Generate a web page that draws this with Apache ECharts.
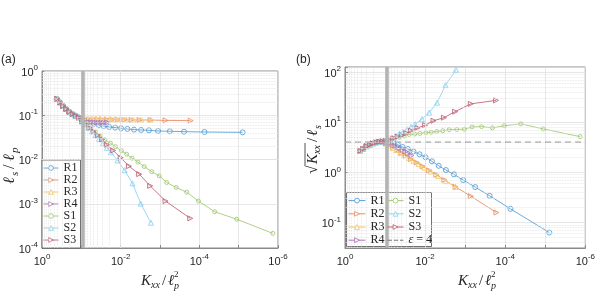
<!DOCTYPE html>
<html><head><meta charset="utf-8">
<script src="https://cdn.jsdelivr.net/npm/echarts@6/dist/echarts.min.js"></script>
<style>html,body{margin:0;padding:0;background:#fff}#c{width:598px;height:300px}</style>
</head><body><div id="c"></div>
<script>
// ---------- data ----------
const names = ['R1','R2','R3','R4','S1','S2','S3'];

const R1x = [0.417,0.347,0.288,0.240,0.200,0.166,0.138,0.115,0.0955,0.0776,0.0617,0.0479,0.0363,0.0269,0.0195,0.0138,0.00977,0.00676,0.00457,0.00302,0.00191,0.00112,5.62e-4,2.45e-4,7.41e-5,7.94e-6];
const R1a = [0.234,0.195,0.162,0.138,0.120,0.107,0.0977,0.0891,0.0813,0.0741,0.0692,0.0646,0.0603,0.0569,0.0543,0.0525,0.0507,0.0490,0.0473,0.0465,0.0457,0.0441,0.0434,0.0426,0.0418,0.0411];
const R1b = [2.69,2.95,3.31,3.55,3.76,3.94,4.07,4.12,4.07,3.98,3.80,3.55,3.20,2.92,2.60,2.29,2.00,1.66,1.35,1.11,0.912,0.701,0.508,0.341,0.187,0.0631];

const R2x = [0.417,0.347,0.288,0.240,0.200,0.166,0.138,0.115,0.0955,0.0776,0.0631,0.0501,0.0389,0.0302,0.0224,0.0162,0.0115,0.00794,0.00525,0.00331,0.00174,7.24e-4,1.66e-4];
const R2a = [0.234,0.195,0.162,0.138,0.120,0.107,0.0977,0.0891,0.0813,0.0795,0.080,0.0805,0.081,0.081,0.0805,0.080,0.080,0.0795,0.079,0.0785,0.078,0.0765,0.0755];
const R2b = [2.69,2.95,3.31,3.55,3.76,3.94,4.07,4.12,3.80,3.51,3.16,2.79,2.43,2.14,1.84,1.57,1.32,1.10,0.891,0.708,0.513,0.335,0.158];

const R3x = [0.417,0.347,0.288,0.240,0.200,0.166,0.138,0.115,0.0955,0.0794,0.0646,0.0525,0.0417,0.0331,0.0257,0.0195,0.0145,0.0105,0.00724,0.00479,0.00302,0.00174];
const R3a = [0.234,0.195,0.162,0.138,0.120,0.107,0.0977,0.0891,0.0813,0.081,0.0815,0.082,0.0825,0.0825,0.082,0.082,0.0815,0.081,0.0805,0.080,0.080,0.0795];
const R3b = [2.69,2.95,3.31,3.55,3.76,3.94,4.07,4.12,3.76,3.43,3.09,2.79,2.48,2.21,1.95,1.70,1.46,1.24,1.035,0.841,0.668,0.513];

const R4x = [0.417,0.347,0.288,0.240,0.200,0.166,0.138,0.115,0.0955,0.0813,0.0692,0.0589,0.0501,0.0427,0.0363,0.0309,0.0263,0.0219];
const R4a = [0.234,0.195,0.162,0.138,0.120,0.107,0.0977,0.0891,0.0794,0.0759,0.0724,0.0708,0.0692,0.0684,0.0676,0.0676,0.0676,0.0684];
const R4b = [2.69,2.95,3.31,3.55,3.76,3.94,4.07,4.12,3.89,3.76,3.63,3.43,3.24,3.02,2.82,2.60,2.40,2.16];

const S1x = [0.417,0.347,0.288,0.240,0.200,0.166,0.138,0.115,0.0955,0.0759,0.0575,0.0437,0.0331,0.0251,0.0182,0.0135,0.00955,0.00708,0.00513,0.00363,0.00251,0.00162,0.00105,6.76e-4,3.89e-4,2.09e-4,1.05e-4,4.07e-5,1.12e-5,1.35e-6];
const S1a = [0.234,0.195,0.162,0.138,0.120,0.107,0.0977,0.0891,0.0733,0.0624,0.0513,0.0417,0.0343,0.0279,0.0234,0.0195,0.0158,0.0132,0.0107,0.00871,0.00692,0.00531,0.00427,0.00302,0.00234,0.00182,0.00115,6.61e-4,4.47e-4,2.14e-4];
const S1b = [2.69,2.95,3.31,3.55,3.76,3.94,4.07,4.12,4.22,4.42,4.68,5.01,5.31,5.69,5.82,5.96,6.17,6.31,6.53,6.76,7.08,7.16,7.24,8.04,8.18,7.69,8.51,9.25,7.35,5.15];

const S2x = [0.417,0.347,0.288,0.240,0.200,0.166,0.138,0.115,0.0955,0.0794,0.0661,0.0537,0.0437,0.0355,0.0282,0.0224,0.0178,0.0120,0.00794,0.00501,0.00309,0.0017];
const S2a = [0.234,0.195,0.162,0.138,0.120,0.107,0.0977,0.0891,0.0724,0.0617,0.0525,0.0432,0.0355,0.0292,0.0232,0.0184,0.0146,0.00955,0.00575,0.00288,0.00101,3.72e-4];
const S2b = [2.69,2.95,3.31,3.55,3.76,3.94,4.07,4.12,4.27,4.57,4.90,5.37,5.89,6.46,7.24,8.13,9.12,11.5,15.5,24.5,55.0,111];

const S3x = [0.417,0.347,0.288,0.240,0.200,0.166,0.138,0.115,0.0955,0.0776,0.0617,0.0490,0.0380,0.0295,0.0224,0.0155,0.0100,0.00617,0.00339,0.00178,7.24e-4,1.70e-4];
const S3a = [0.234,0.195,0.162,0.138,0.120,0.107,0.0977,0.0891,0.0733,0.0624,0.0519,0.0432,0.0355,0.0285,0.0216,0.0160,0.0110,0.00708,0.00468,0.00254,0.00115,4.68e-4];
const S3b = [2.69,2.95,3.31,3.55,3.76,3.94,4.07,4.12,4.22,4.47,4.79,5.13,5.50,6.03,6.76,7.67,8.71,10.7,12.3,16.2,23.2,27.2];

const xRange = [1e-6, 1];
const yaRange = [1e-4, 1];
const ybRange = [0.031, 126];
const bandX = 0.092;      // grey vertical line
const epsValue = 4;       // dashed line  epsilon = 4
const epsName = 'ε = 4';

// ---------- styling ----------
const colors = {R1:'#5aa2d6',R2:'#e8926a',R3:'#f2c86a',R4:'#ad7ab8',S1:'#a6c97a',S2:'#8ed5f4',S3:'#c2667a'};
const symbols = {R1:['circle',0,5],R2:['triangle',-90,5],R3:['triangle',0,5],R4:['triangle',-90,5],S1:['circle',0,4],S2:['triangle',0,5],S3:['triangle',-90,5]};
const seriesX = {R1:R1x,R2:R2x,R3:R3x,R4:R4x,S1:S1x,S2:S2x,S3:S3x};
const seriesA = {R1:R1a,R2:R2a,R3:R3a,R4:R4a,S1:S1a,S2:S2a,S3:S3a};
const seriesB = {R1:R1b,R2:R2b,R3:R3b,R4:R4b,S1:S1b,S2:S2b,S3:S3b};

const SANS = 'Liberation Sans, Arial, sans-serif';
const SERIF = 'Liberation Serif, Times New Roman, serif';
const AXIS_COLOR = '#8a8a8a';

function powLabel(evenOnly){
  return function(v){
    const e = Math.log10(v), r = Math.round(e);
    if (Math.abs(e - r) > 1e-6) return '';
    if (evenOnly && r % 2 !== 0) return '';
    return '{b|10}{s|' + r + '}';
  };
}
const tickRich = {
  b:{fontFamily:SANS,fontSize:11,color:'#262626',lineHeight:14,verticalAlign:'bottom'},
  s:{fontFamily:SANS,fontSize:8,color:'#262626',lineHeight:14,verticalAlign:'top'}
};
function logAxis(idx, range, inverse, evenOnly, isX, split){
  return {
    type:'log', logBase:10, gridIndex:idx, min:range[0], max:range[1], inverse:inverse,
    splitNumber:split,
    axisLine:{show:true,lineStyle:{color:AXIS_COLOR,width:1}},
    axisTick:{show:true,inside:true,length:3,lineStyle:{color:AXIS_COLOR}},
    axisLabel:{formatter:powLabel(evenOnly),rich:tickRich,margin:isX?5:4,showMinLabel:true,showMaxLabel:true,hideOverlap:false},
    splitLine:{show:true,lineStyle:{color:'#dcdcdc',width:0.7,type:'solid'}},
    minorTick:{show:false}
  };
}

function minorVals(eFrom, eTo, lo, hi){
  const out=[];
  for(let e=eFrom;e<=eTo;e++) for(let k=2;k<=9;k++){const v=k*Math.pow(10,e); if(v>lo&&v<hi) out.push(v);}
  return out;
}
const minorXa = minorVals(-6,-1,xRange[0],xRange[1]);
const minorYa = minorVals(-4,-1,yaRange[0],yaRange[1]);
const minorYb = minorVals(-2,2,ybRange[0],ybRange[1]);

function helper(idx, my){
  return {
    type:'line', xAxisIndex:idx, yAxisIndex:idx, data:[], silent:true, z:1, symbol:'none',
    markLine:{silent:true, symbol:['none','none'], animation:false, label:{show:false},
      lineStyle:{color:'#e2e2e2',type:'dotted',width:0.8},
      data:[].concat(minorXa.map(v=>({xAxis:v})), my.map(v=>({yAxis:v})),
        [{xAxis:bandX, lineStyle:{color:'#b3b3b3',width:3.5,type:'solid'}}])}
  };
}

const series = [helper(0,minorYa), helper(1,minorYb)];
[0,1].forEach(function(p){
  names.forEach(function(n){
    const xs = seriesX[n], ys = p===0 ? seriesA[n] : seriesB[n];
    const data = xs.map((x,i)=>[x, ys[i]]);
    series.push({
      name:n, type:'line', xAxisIndex:p, yAxisIndex:p, data:data,
      symbol:symbols[n][0], symbolRotate:symbols[n][1], symbolSize:symbols[n][2],
      lineStyle:{width:0.9,color:colors[n]},
      itemStyle:{color:'rgba(255,255,255,0)',borderColor:colors[n],borderWidth:0.9},
      showAllSymbol:true, z:3
    });
  });
});
series.push({
  name:epsName, type:'line', xAxisIndex:1, yAxisIndex:1,
  data:[[xRange[1],epsValue],[xRange[0],epsValue]], symbol:'none',
  itemStyle:{color:'#7a7a7a'},
  lineStyle:{type:[6,4],width:1,color:'#7a7a7a'}, z:2, silent:true
});

// ---------- math-like labels ----------
function part(t,dx,dy,size,italic){
  return {type:'text',x:dx,y:dy,style:{text:t,fontFamily:SERIF,fontSize:size,fontStyle:italic?'italic':'normal',fill:'#262626',verticalAlign:'middle',align:'left'}};
}
function xName(x,y){
  return {type:'group',x:x,y:y,children:[
    part('K',0,0,15,true), part('xx',10,4,10,true), part('/',21,0,15,false),
    part('ℓ',27,0,15,true), part('2',33,-6,9,false), part('p',33,5,10,true)
  ]};
}
const graphics = [
  xName(141,281), xName(458,281),
  {type:'group',x:10,y:184,rotation:Math.PI/2,children:[
    part('ℓ',0,0,16,true), part('s',8,5,11,true), part('/',15,0,16,false),
    part('ℓ',23,0,16,true), part('p',31,5,11,true)
  ]},
  {type:'group',x:313,y:174,rotation:Math.PI/2,children:[
    part('√',0,0,16,false), part('K',10,0,15,true), part('xx',20,4,10,true),
    {type:'line',shape:{x1:9,y1:-8,x2:31,y2:-8},style:{stroke:'#262626',lineWidth:0.8}},
    part('/',32,0,15,false), part('ℓ',38,0,15,true), part('s',45,5,10,true)
  ]},
  {type:'text',x:1,y:60,style:{text:'(a)',fontFamily:SANS,fontSize:12,fill:'#262626',verticalAlign:'middle'}},
  {type:'text',x:296,y:60,style:{text:'(b)',fontFamily:SANS,fontSize:12,fill:'#262626',verticalAlign:'middle'}},
  {type:'rect',z:5,shape:{x:346.5,y:192.5,width:85,height:54},style:{fill:'#fff',stroke:'#4d4d4d',lineWidth:0.8}}
];

const legendText = {fontFamily:SERIF,fontSize:12,color:'#262626',
  rich:{i:{fontFamily:SERIF,fontSize:12,fontStyle:'italic',color:'#262626'},n:{fontFamily:SERIF,fontSize:12,color:'#262626'}}};
function legFmt(n){ return n===epsName ? '{i|ε} {n|= 4}' : n; }
const epsIcon = 'path://M0,0h5v1.2h-5z M7,0h5v1.2h-5z M14,0h4v1.2h-4z';
const legItem = {color:'#ffffff',borderWidth:0.9};
const legLine = {width:1};

const option = {
  animation:false,
  backgroundColor:'#fff',
  grid:[
    {left:42,top:71,width:236,height:177,show:true,borderColor:AXIS_COLOR,borderWidth:1,containLabel:false},
    {left:345,top:67,width:243,height:181,show:true,borderColor:AXIS_COLOR,borderWidth:1,containLabel:false}
  ],
  xAxis:[ logAxis(0,xRange,true,true,true,6), logAxis(1,xRange,true,true,true,6) ],
  yAxis:[ logAxis(0,yaRange,false,false,false,4), logAxis(1,ybRange,false,false,false,4) ],
  legend:[
    {data:names, left:42, top:160, orient:'vertical', itemWidth:15, itemHeight:6, itemGap:0,
     padding:[2,3,2,1], borderColor:'#4d4d4d', borderWidth:0.8, backgroundColor:'#fff', itemStyle:legItem, lineStyle:legLine,
     textStyle:Object.assign({lineHeight:12},legendText), formatter:legFmt, selectedMode:false},
    {data:['R1','R2','R3','R4'], left:348, top:194, orient:'vertical', itemWidth:17, itemHeight:6, itemGap:0,
     padding:0, itemStyle:legItem, lineStyle:legLine, textStyle:Object.assign({lineHeight:13.2},legendText), formatter:legFmt, selectedMode:false, z:6},
    {data:['S1','S2','S3',{name:epsName,icon:epsIcon,itemStyle:{color:'#7a7a7a',borderWidth:0}}], left:387, top:194, orient:'vertical', itemWidth:16, itemHeight:6, itemGap:0,
     padding:0, itemStyle:legItem, lineStyle:legLine, textStyle:Object.assign({lineHeight:13.2},legendText), formatter:legFmt, selectedMode:false, z:6}
  ],
  graphic:graphics,
  series:series
};
const chart = echarts.init(document.getElementById('c'), null, {renderer:'canvas'});
chart.setOption(option);
</script>
</body></html>
